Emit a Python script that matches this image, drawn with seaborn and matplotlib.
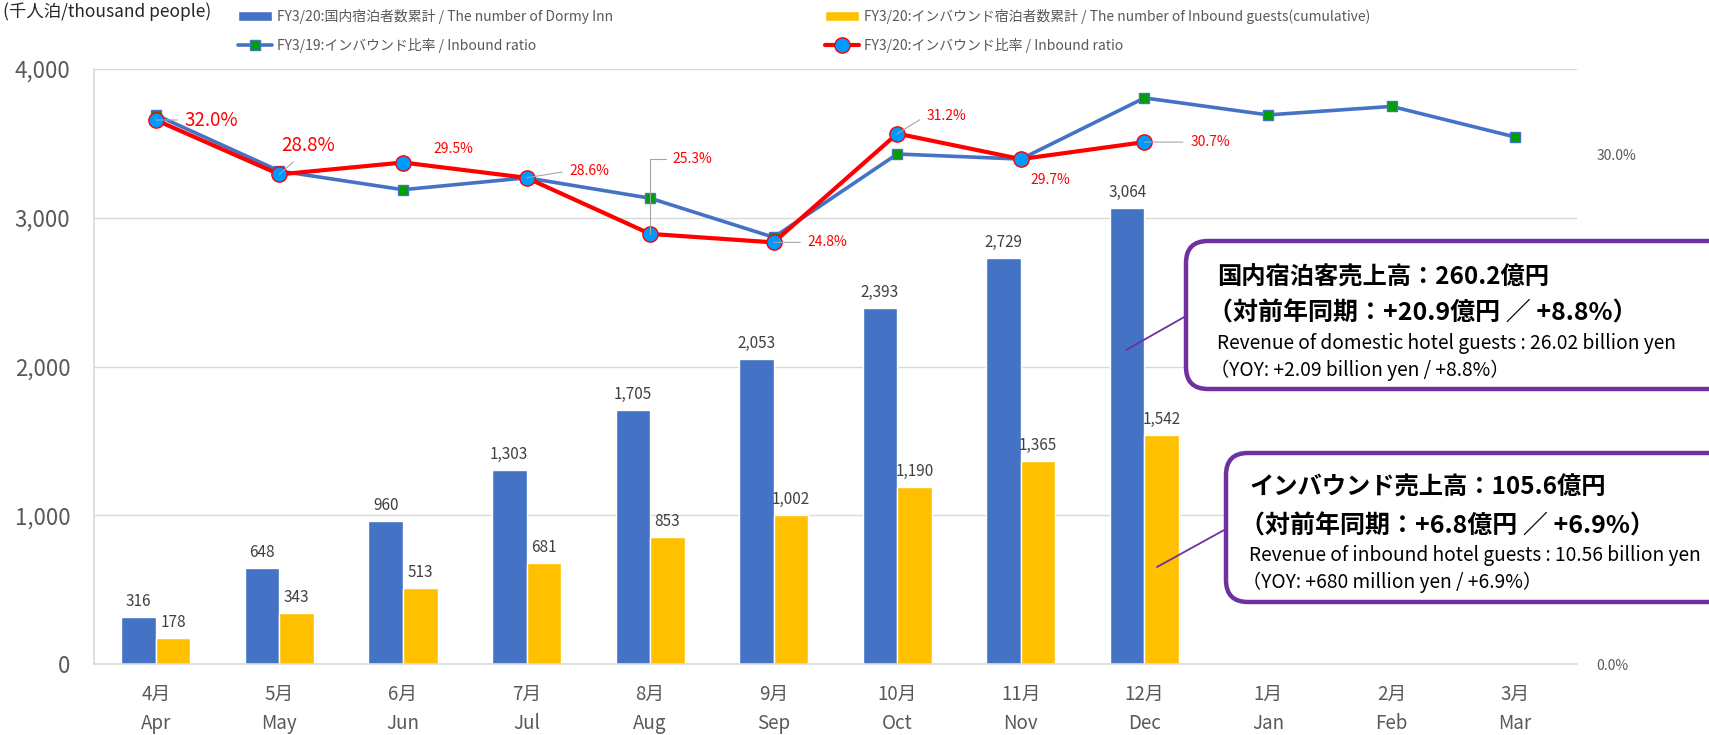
import numpy as np
import pandas as pd
import matplotlib.pyplot as plt
import seaborn as sns
from matplotlib.patches import FancyBboxPatch

# dane
months_jp = ['4月', '5月', '6月', '7月', '8月', '9月', '10月', '11月', '12月', '1月', '2月', '3月']
months_en = ['Apr', 'May', 'Jun', 'Jul', 'Aug', 'Sep', 'Oct', 'Nov', 'Dec', 'Jan', 'Feb', 'Mar']
dormy_inn = [316, 648, 960, 1303, 1705, 2053, 2393, 2729, 3064]
inbound = [178, 343, 513, 681, 853, 1002, 1190, 1365, 1542]
ratio_fy19 = [32.3, 29.0, 27.9, 28.6, 27.4, 25.1, 30.0, 29.7, 33.3, 32.3, 32.8, 31.0]
ratio_fy20 = [32.0, 28.8, 29.5, 28.6, 25.3, 24.8, 31.2, 29.7, 30.7]

lab_dom = 'FY3/20:国内宿泊者数累計 / The number of Dormy Inn'
lab_inb = 'FY3/20:インバウンド宿泊者数累計 / The number of Inbound guests(cumulative)'
lab_r19 = 'FY3/19:インバウンド比率 / Inbound ratio'
lab_r20 = 'FY3/20:インバウンド比率 / Inbound ratio'

sns.set_theme(style='white')
plt.rcParams['font.family'] = ['Noto Sans CJK JP', 'DejaVu Sans']

cats = [f'{j}\n{e}' for j, e in zip(months_jp, months_en)]
df = pd.DataFrame({
    'month': cats[:len(dormy_inn)] * 2,
    'value': dormy_inn + inbound,
    'series': [lab_dom] * len(dormy_inn) + [lab_inb] * len(inbound),
})

fig, ax = plt.subplots(figsize=(17.09, 7.35), dpi=100)
fig.subplots_adjust(left=94 / 1709, right=1577 / 1709, bottom=1 - 664 / 735, top=1 - 69 / 735)

# słupki
sns.barplot(data=df, x='month', y='value', hue='series', order=cats,
            hue_order=[lab_dom, lab_inb], palette=['#4472C4', '#FFC000'],
            width=0.56, gap=0, saturation=1, ax=ax)
for cont in ax.containers:
    ax.bar_label(cont, fmt='{:,.0f}', padding=5, fontsize=11, color='#404040')
ax.set_ylim(0, 4000)
ax.set_xlim(-0.5, 11.5)
ax.set_yticks([0, 1000, 2000, 3000, 4000])
ax.set_yticklabels(['0', '1,000', '2,000', '3,000', '4,000'])
ax.tick_params(axis='y', length=0, pad=17, labelsize=16, labelcolor='#595959')
ax.tick_params(axis='x', length=0, pad=14, labelsize=13.5, labelcolor='#595959')
for t in ax.get_xticklabels():
    t.set_linespacing(1.55)
ax.set_xlabel('')
ax.set_ylabel('')
ax.yaxis.grid(True, color='#D9D9D9', lw=1)
ax.set_axisbelow(True)
for s in ['top', 'right']:
    ax.spines[s].set_visible(False)
for s in ['left', 'bottom']:
    ax.spines[s].set_color('#D9D9D9')
    ax.spines[s].set_linewidth(1.2)
bar_h, bar_l = ax.get_legend_handles_labels()
if ax.legend_ is not None:
    ax.legend_.remove()

# linie - oś prawa
ax2 = ax.twinx()
sns.lineplot(x=np.arange(len(ratio_fy19)), y=ratio_fy19, ax=ax2, color='#4472C4', lw=2.6,
             marker='s', markersize=7, markerfacecolor='#00A000', markeredgecolor='#4472C4',
             markeredgewidth=1, label=lab_r19)
sns.lineplot(x=np.arange(len(ratio_fy20)), y=ratio_fy20, ax=ax2, color='#FF0000', lw=3,
             marker='o', markersize=11, markerfacecolor='#0099FF', markeredgecolor='#FF0000',
             markeredgewidth=1, label=lab_r20)
ax2.set_ylim(0, 35)
ax2.set_yticks([0, 30])
ax2.set_yticklabels(['0.0%', '30.0%'])
ax2.tick_params(axis='y', length=0, pad=14, labelsize=10, labelcolor='#595959')
ax2.set_ylabel('')
for s in ax2.spines.values():
    s.set_visible(False)
line_h, line_l = ax2.get_legend_handles_labels()
if ax2.legend_ is not None:
    ax2.legend_.remove()

# etykiety procentowe: (dx, dy w pt, rozmiar, linia odniesienia)
lab_style = [(21, 0, 13.5, True), (1, 21, 13.5, True), (22, 9.5, 10, False),
             (31, 5, 10, True), (16, 54, 10, 'angle'), (24.5, 0, 10, True),
             (21, 13, 10, True), (7, -15, 10, False), (33, 0, 10, True)]
for i, (v, (dx, dy, fs, lead)) in enumerate(zip(ratio_fy20, lab_style)):
    kw = {}
    if lead == 'angle':
        kw['arrowprops'] = dict(arrowstyle='-', color='#A6A6A6', lw=0.8, shrinkA=2, shrinkB=0,
                                relpos=(0, 0.5), connectionstyle='angle,angleA=180,angleB=90,rad=0')
    elif lead:
        kw['arrowprops'] = dict(arrowstyle='-', color='#A6A6A6', lw=0.8, shrinkA=3, shrinkB=0,
                                relpos=(0, 0.5) if i != 1 else (0.4, 0.1))
    ax2.annotate(f'{v:.1f}%', xy=(i, v), xytext=(dx, dy), textcoords='offset points',
                 ha='left', va='center', fontsize=fs, color='#FF0000', **kw)

# legenda
leg_kw = dict(loc='upper left', frameon=False, fontsize=10, labelcolor='#595959',
              handlelength=2.45, handletextpad=0.35, labelspacing=1.0,
              borderpad=0, borderaxespad=0)
fig.legend([bar_h[0], line_h[0]], [lab_dom, lab_r19],
           bbox_to_anchor=(238 / 1709, 1 - 9 / 735), **leg_kw)
fig.legend([bar_h[1], line_h[1]], [lab_inb, lab_r20],
           bbox_to_anchor=(825 / 1709, 1 - 9 / 735), **leg_kw)

# warstwa w pikselach - opis osi i ramki
ov = fig.add_axes([0, 0, 1, 1])
ov.set_xlim(0, 1709)
ov.set_ylim(735, 0)
ov.axis('off')
ov.text(3, 2, '(千人泊/thousand people)', ha='left', va='top', fontsize=12.5, color='#262626')

purple = '#7030A0'
ov.plot([1186, 1126], [316, 350], color=purple, lw=1.3)
ov.plot([1226, 1157], [529, 567], color=purple, lw=1.3)
ov.add_patch(FancyBboxPatch((1186, 241), 560, 148, boxstyle='round,pad=0,rounding_size=22',
                            fc='white', ec=purple, lw=3.2))
ov.add_patch(FancyBboxPatch((1226, 453), 560, 149, boxstyle='round,pad=0,rounding_size=22',
                            fc='white', ec=purple, lw=3.2))

ov.text(1217, 278, '国内宿泊客売上高：260.2億円', fontsize=17.5, fontweight='bold', va='center', color='black')
ov.text(1208, 313, '（対前年同期：+20.9億円 ／ +8.8%）', fontsize=18, fontweight='bold', va='center', color='black')
ov.text(1217, 343, 'Revenue of domestic hotel guests : 26.02 billion yen', fontsize=13.8, va='center', color='black')
ov.text(1210, 370, '（YOY: +2.09 billion yen / +8.8%）', fontsize=13.8, va='center', color='black')

ov.text(1249, 488, 'インバウンド売上高：105.6億円', fontsize=17.5, fontweight='bold', va='center', color='black')
ov.text(1240, 526, '（対前年同期：+6.8億円 ／ +6.9%）', fontsize=18, fontweight='bold', va='center', color='black')
ov.text(1249, 556, 'Revenue of inbound hotel guests : 10.56 billion yen', fontsize=13.8, va='center', color='black')
ov.text(1242, 582, '（YOY: +680 million yen / +6.9%）', fontsize=13.8, va='center', color='black')

plt.savefig('out.png', dpi=100)
